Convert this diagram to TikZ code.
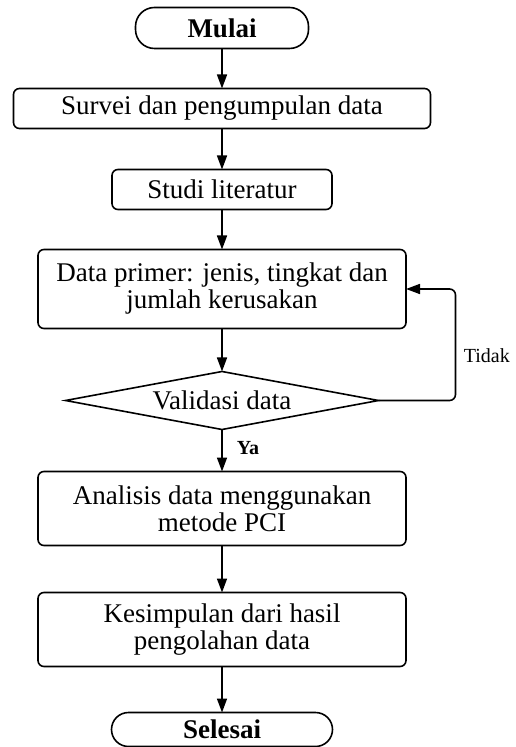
\documentclass[tikz,border=0pt]{standalone}
\usepackage{fontspec}
\setmainfont{Liberation Serif}
\usepackage{tikz}
\usetikzlibrary{arrows.meta, positioning, shapes.geometric}

\begin{document}
\begin{tikzpicture}[>={Triangle[length=7pt,width=5pt]},
    every node/.style={font=\fontsize{13.5}{13.5}\selectfont},
    terminal/.style={draw, line width=0.8pt, rounded corners=9.5pt, minimum width=86.5pt, minimum height=20.5pt, inner sep=0pt, outer sep=0pt, font=\fontsize{13.5}{13.5}\selectfont\bfseries},
    proses/.style={draw, line width=0.8pt, rounded corners=3pt, minimum width=184pt, inner sep=0pt, outer sep=0pt, align=center},
    keputusan/.style={draw, diamond, line width=0.8pt, minimum width=156.5pt, minimum height=29pt, inner sep=0pt, outer sep=0pt, aspect=5.4},
    lbl/.style={inner sep=0pt, font=\fontsize{10}{10}\selectfont},
    every path/.style={line width=0.8pt}]
    \useasboundingbox (0pt,0pt) rectangle (257.5pt,-373.5pt);

    \node (mulai) [terminal] at (111pt,-14pt) {Mulai};
    \node (survei) [proses, below=20pt of mulai, minimum width=208.5pt, minimum height=20pt] {Survei dan pengumpulan data};
    \node (studi) [proses, below=20.5pt of survei, minimum width=110pt, minimum height=20pt] {Studi literatur};
    \node (primer) [proses, below=20pt of studi, minimum height=39.5pt] {Data primer: jenis, tingkat dan\\jumlah kerusakan};
    \node (valid) [keputusan, below=21.5pt of primer] {Validasi data};
    \node (analisis) [proses, below=21pt of valid, minimum height=37pt] {Analisis data menggunakan\\metode PCI};
    \node (simpul) [proses, below=23.5pt of analisis, minimum height=37pt] {Kesimpulan dari hasil\\pengolahan data};
    \node (selesai) [terminal, below=23pt of simpul, minimum width=110.5pt, minimum height=17pt, rounded corners=8.5pt] {Selesai};

    \draw [->] (mulai) -- (survei);
    \draw [->] (survei) -- (studi);
    \draw [->] (studi) -- (primer);
    \draw [->] (primer) -- (valid);
    \draw [->] (valid) -- (analisis);
    \draw [->] (analisis) -- (simpul);
    \draw [->] (simpul) -- (selesai);
    \draw [->, rounded corners=3pt] (valid.east) -- ++(38.5pt,0) |- (primer.east);

    \node (tidak) [lbl, anchor=west] at (231.5pt,-178pt) {Tidak};
    \node (ya) [lbl, anchor=west, font=\fontsize{10}{10}\selectfont\bfseries] at (118pt,-224pt) {Ya};
\end{tikzpicture}
\end{document}
